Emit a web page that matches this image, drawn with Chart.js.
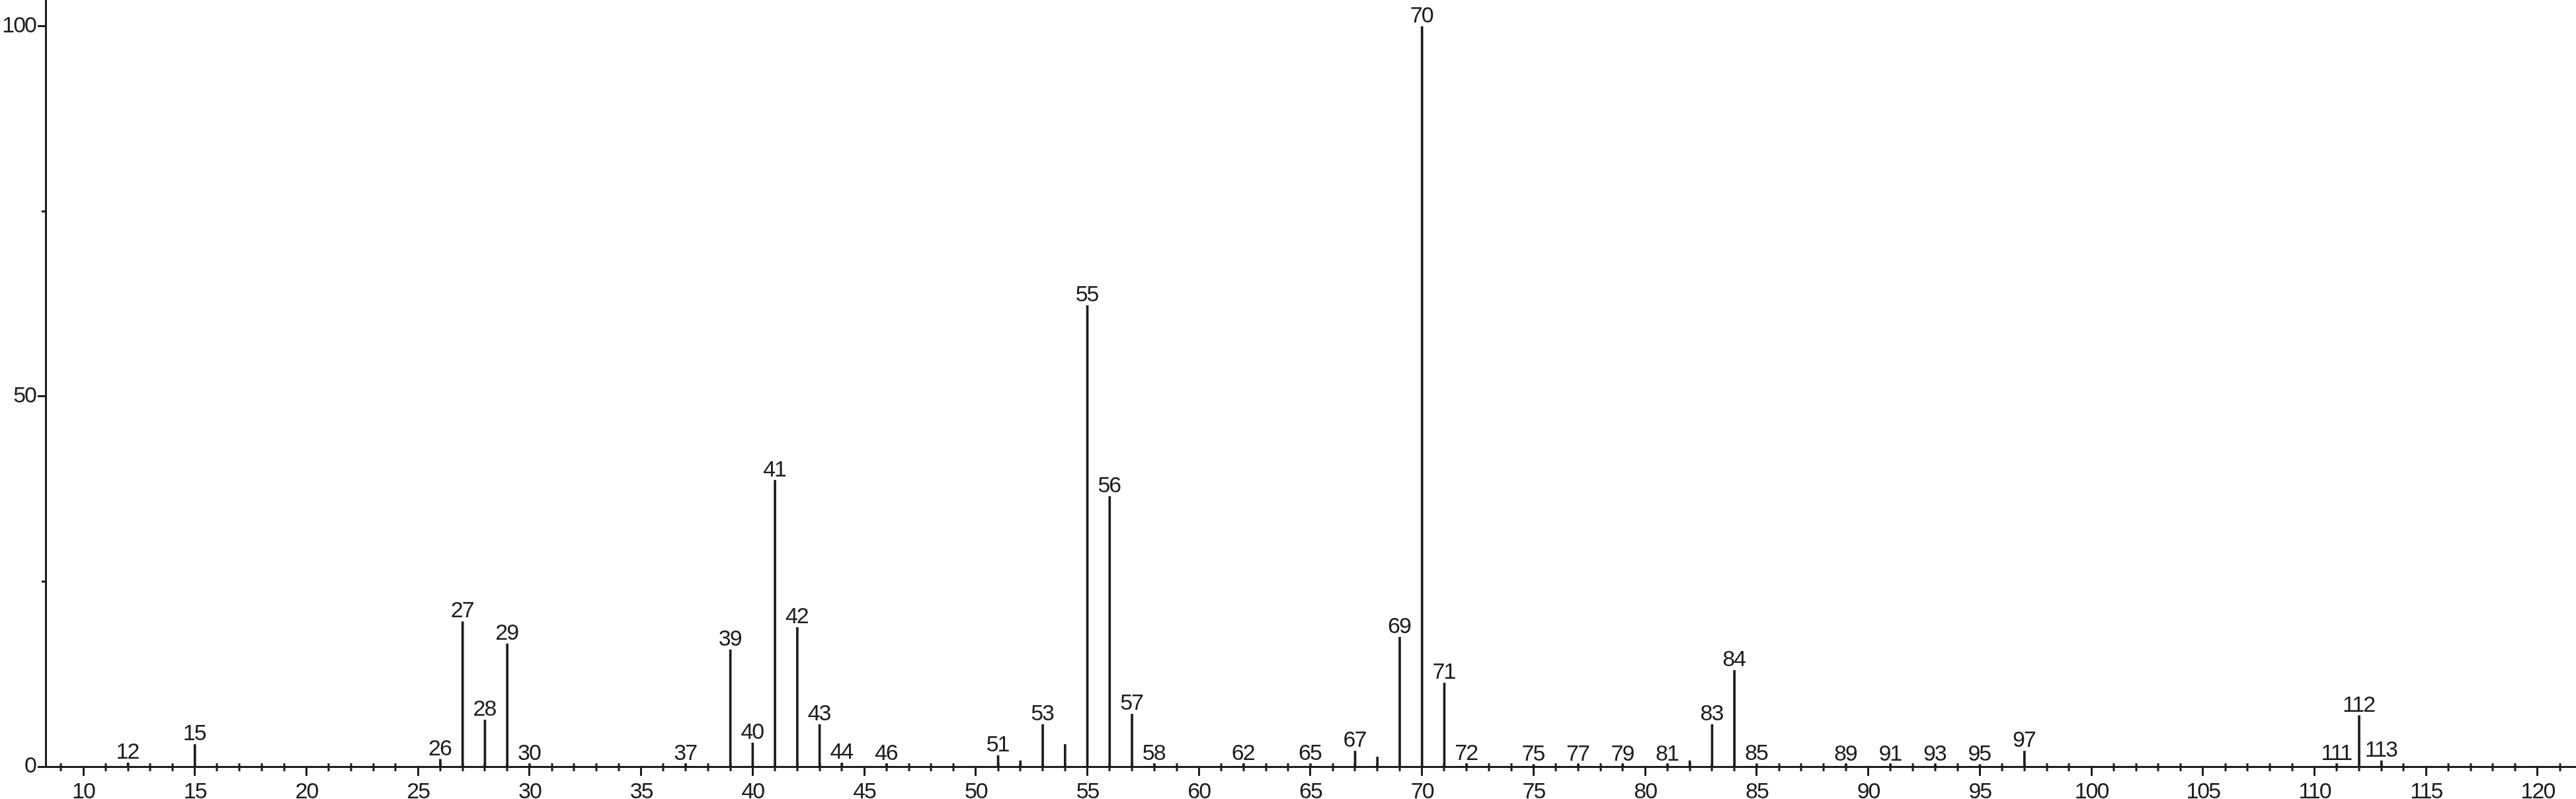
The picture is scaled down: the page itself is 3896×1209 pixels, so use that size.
<!DOCTYPE html>
<html>
<head>
<meta charset="utf-8">
<script src="https://cdn.jsdelivr.net/npm/chart.js@4.4.1/dist/chart.umd.min.js"></script>
<style>
  html, body { margin: 0; padding: 0; background: #ffffff; }
  #wrap { width: 3896px; height: 1209px; position: relative; }
</style>
</head>
<body>
<div id="wrap"><canvas id="c" width="3896" height="1209"></canvas></div>
<script>
// m/z values of the peaks
const mz = [12, 15, 26, 27, 28, 29, 30, 37, 39, 40, 41, 42, 43, 44, 46,
            51, 52, 53, 54, 55, 56, 57, 58, 62, 65, 67, 68, 69, 70, 71, 72,
            75, 77, 79, 81, 82, 83, 84, 85, 89, 91, 93, 95, 97, 111, 112, 113];
// relative intensities
const intensity = [0.5, 3.0, 1.0, 19.6, 6.3, 16.6, 0.4, 0.4, 15.8, 3.2, 38.7, 18.8, 5.7, 0.5, 0.4,
                   1.5, 0.8, 5.7, 3.0, 62.3, 36.5, 7.1, 0.4, 0.4, 0.4, 2.1, 1.3, 17.5, 100, 11.3, 0.4,
                   0.3, 0.3, 0.3, 0.3, 0.8, 5.7, 13.0, 0.4, 0.3, 0.3, 0.3, 0.3, 2.1, 0.4, 6.9, 0.8];
// peaks that carry a text label
const labeledMz = [12, 15, 26, 27, 28, 29, 30, 37, 39, 40, 41, 42, 43, 44, 46, 51, 53, 55, 56, 57, 58,
                   62, 65, 67, 69, 70, 71, 72, 75, 77, 79, 81, 83, 84, 85, 89, 91, 93, 95, 97, 111, 112, 113];
// axis tick labels
const xTicks = [10, 15, 20, 25, 30, 35, 40, 45, 50, 55, 60, 65, 70, 75, 80, 85, 90, 95, 100, 105, 110, 115, 120];
const yTicks = [0, 50, 100];
const yMinorTicks = [25, 75];

const INK = '#1c1c1c';
const FONT = '"Liberation Sans", Arial, Helvetica, sans-serif';
const FSIZE = 34;

const condensed = {
  id: 'condensed',
  beforeDraw(chart) {
    try { chart.ctx.letterSpacing = '-2px'; } catch (e) {}
  }
};

const peakLabels = {
  id: 'peakLabels',
  afterDatasetsDraw(chart) {
    const ctx = chart.ctx;
    const meta = chart.getDatasetMeta(0);
    ctx.save();
    ctx.fillStyle = INK;
    ctx.font = FSIZE + 'px ' + FONT;
    ctx.textAlign = 'center';
    ctx.textBaseline = 'alphabetic';
    meta.data.forEach((bar, i) => {
      if (labeledMz.indexOf(mz[i]) === -1) return;
      ctx.fillText(String(mz[i]), bar.x - 1, bar.y - 6);
    });
    ctx.restore();
  }
};

const minorTicks = {
  id: 'minorTicks',
  afterDraw(chart) {
    const ctx = chart.ctx;
    const xs = chart.scales.x, ys = chart.scales.y;
    const y0 = ys.getPixelForValue(0);
    ctx.save();
    ctx.strokeStyle = INK;
    ctx.lineWidth = 3;
    ctx.beginPath();
    for (let v = Math.ceil(xs.min); v <= Math.floor(xs.max); v++) {
      if (v % 5 === 0) continue;
      const px = Math.round(xs.getPixelForValue(v));
      ctx.moveTo(px, y0 - 5);
      ctx.lineTo(px, y0 + 7);
    }
    const x0 = xs.left;
    yMinorTicks.forEach(v => {
      const py = Math.round(ys.getPixelForValue(v));
      ctx.moveTo(x0 - 6, py);
      ctx.lineTo(x0, py);
    });
    ctx.stroke();
    ctx.restore();
  }
};

new Chart(document.getElementById('c'), {
  type: 'bar',
  data: {
    datasets: [{
      data: mz.map((m, i) => ({ x: m, y: intensity[i] })),
      backgroundColor: INK,
      borderWidth: 0,
      barThickness: 3
    }]
  },
  options: {
    responsive: false,
    animation: false,
    devicePixelRatio: 1,
    layout: { padding: 0 },
    plugins: { legend: { display: false }, tooltip: { enabled: false }, title: { display: false } },
    scales: {
      x: {
        type: 'linear',
        min: 8.31,
        max: 121.72,
        offset: false,
        grid: { offset: false, drawOnChartArea: false, tickLength: 14, tickWidth: 3, tickColor: INK },
        border: { display: true, color: INK, width: 3 },
        afterBuildTicks: s => { s.ticks = xTicks.map(v => ({ value: v })); },
        afterFit: s => { s.height = 49; s.paddingLeft = 0; s.paddingRight = 0; },
        ticks: { color: INK, font: { size: FSIZE, family: FONT }, padding: 4, maxRotation: 0, autoSkip: false }
      },
      y: {
        type: 'linear',
        min: 0,
        max: 103.57,
        grid: { drawOnChartArea: false, tickLength: 12, tickWidth: 3, tickColor: INK },
        border: { display: true, color: INK, width: 3 },
        afterBuildTicks: s => { s.ticks = yTicks.map(v => ({ value: v })); },
        afterFit: s => { s.width = 69; s.paddingTop = 0; s.paddingBottom = 0; },
        ticks: { color: INK, font: { size: FSIZE, family: FONT }, padding: 3 }
      }
    }
  },
  plugins: [condensed, peakLabels, minorTicks]
});
</script>
</body>
</html>
